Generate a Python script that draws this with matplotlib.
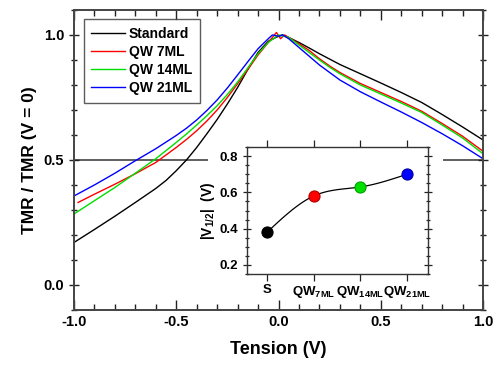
import numpy as np
import matplotlib
matplotlib.use("Agg")
import matplotlib.pyplot as plt
from matplotlib.patches import Rectangle
from matplotlib.ticker import MultipleLocator

plt.rcParams["font.family"] = ["Liberation Sans", "DejaVu Sans"]
plt.rcParams["font.weight"] = "bold"
plt.rcParams["axes.unicode_minus"] = False
plt.rcParams["mathtext.fontset"] = "custom"
plt.rcParams["mathtext.rm"] = "Liberation Sans:bold"
plt.rcParams["mathtext.bf"] = "Liberation Sans:bold"
plt.rcParams["mathtext.default"] = "bf"

# ---- main curves: normalised TMR vs bias ----
v_std = [-1.0, -0.9, -0.8, -0.7, -0.6, -0.55, -0.5, -0.45, -0.4, -0.35, -0.3, -0.25,
         -0.2, -0.15, -0.1, -0.05, 0.0, 0.02, 0.05, 0.1, 0.15, 0.2, 0.3, 0.4, 0.5,
         0.6, 0.7, 0.8, 0.9, 1.0]
tmr_std = [0.17, 0.222, 0.275, 0.33, 0.386, 0.418, 0.457, 0.5, 0.55, 0.605, 0.662, 0.724,
           0.79, 0.862, 0.93, 0.975, 0.995, 1.0, 0.99, 0.97, 0.948, 0.925, 0.882, 0.845,
           0.808, 0.77, 0.73, 0.682, 0.632, 0.58]

v_7 = [-0.98, -0.9, -0.8, -0.7, -0.6, -0.5, -0.45, -0.4, -0.35, -0.3, -0.25, -0.2,
       -0.15, -0.1, -0.05, -0.01, 0.01, 0.03, 0.05, 0.1, 0.15, 0.2, 0.25, 0.3, 0.4,
       0.5, 0.6, 0.7, 0.8, 0.9, 1.0]
tmr_7 = [0.33, 0.363, 0.403, 0.445, 0.49, 0.55, 0.582, 0.617, 0.656, 0.70, 0.75, 0.805,
         0.862, 0.92, 0.97, 1.01, 0.985, 1.0, 0.99, 0.965, 0.938, 0.905, 0.876, 0.85,
         0.806, 0.77, 0.734, 0.695, 0.646, 0.595, 0.535]

v_14 = [-1.0, -0.9, -0.8, -0.7, -0.6, -0.5, -0.45, -0.4, -0.35, -0.3, -0.25, -0.2,
        -0.15, -0.1, -0.05, 0.0, 0.05, 0.1, 0.15, 0.2, 0.25, 0.3, 0.4, 0.5, 0.6, 0.7,
        0.8, 0.9, 1.0]
tmr_14 = [0.284, 0.337, 0.39, 0.447, 0.505, 0.57, 0.604, 0.64, 0.677, 0.717, 0.762,
          0.812, 0.868, 0.925, 0.97, 1.0, 0.99, 0.96, 0.93, 0.9, 0.871, 0.845, 0.8,
          0.764, 0.728, 0.69, 0.64, 0.588, 0.525]

v_21 = [-1.0, -0.9, -0.8, -0.7, -0.6, -0.5, -0.45, -0.4, -0.35, -0.3, -0.25, -0.2,
        -0.15, -0.1, -0.05, -0.03, 0.0, 0.02, 0.05, 0.1, 0.15, 0.2, 0.25, 0.3, 0.4,
        0.5, 0.6, 0.7, 0.8, 0.9, 1.0]
tmr_21 = [0.356, 0.40, 0.447, 0.497, 0.545, 0.598, 0.627, 0.66, 0.698, 0.74, 0.788,
          0.84, 0.893, 0.945, 0.985, 1.0, 0.995, 1.0, 0.985, 0.95, 0.915, 0.88, 0.85,
          0.82, 0.773, 0.732, 0.692, 0.65, 0.605, 0.557, 0.505]

# ---- inset: |V1/2| per sample ----
samples = ["S", "QW$_{7ML}$", "QW$_{14ML}$", "QW$_{21ML}$"]
v_half = [0.38, 0.58, 0.63, 0.70]
sample_colors = ["black", "#ff0000", "#00e000", "#0000ff"]
sample_edges = ["#000000", "#b00000", "#00a000", "#0000a0"]

SERIES = [
    ("Standard", v_std, tmr_std, "black"),
    ("QW 7ML", v_7, tmr_7, "#ff0000"),
    ("QW 14ML", v_14, tmr_14, "#00dd00"),
    ("QW 21ML", v_21, tmr_21, "#0000ff"),
]

fig = plt.figure(figsize=(5.0, 3.69), dpi=100)
ax = fig.add_axes([0.148, 0.16, 0.818, 0.813])

ax.axhline(0.5, color="#333333", lw=1.1, zorder=1)
for name, x, y, c in SERIES:
    ax.plot(x, y, color=c, lw=1.0, label=name, zorder=2)

ax.set_xlim(-1.0, 1.0)
ax.set_ylim(-0.1, 1.1)
ax.set_xticks([-1.0, -0.5, 0.0, 0.5, 1.0])
ax.set_yticks([0.0, 0.5, 1.0])
ax.xaxis.set_minor_locator(MultipleLocator(0.1))
ax.yaxis.set_minor_locator(MultipleLocator(0.1))
ax.tick_params(axis="both", which="both", top=True, right=True, labelsize=10.5,
               width=1.0, color="#222222")
ax.tick_params(axis="x", which="both", direction="in")
ax.tick_params(axis="y", which="both", direction="inout")
ax.tick_params(axis="both", which="major", length=7)
ax.tick_params(axis="both", which="minor", length=4)
for lab in ax.get_xticklabels() + ax.get_yticklabels():
    lab.set_fontweight("bold")
for sp in ax.spines.values():
    sp.set_color("#444444")
    sp.set_linewidth(1.4)

ax.set_xlabel("Tension (V)", fontsize=13, fontweight="bold", labelpad=9)
ax.set_ylabel("TMR / TMR (V = 0)", fontsize=12.5, fontweight="bold", labelpad=5)

leg = ax.legend(loc="upper left", bbox_to_anchor=(0.024, 0.97), borderaxespad=0,
                fontsize=10, frameon=True, fancybox=False, handlelength=2.4,
                handletextpad=0.3, borderpad=0.55, labelspacing=0.3)
leg.get_frame().set_edgecolor("#333333")
leg.get_frame().set_linewidth(1.0)
for t in leg.get_texts():
    t.set_fontweight("bold")

# white backing behind the inset (hides the 0.5 guide line)
fig.add_artist(Rectangle((208 / 500, 1 - 300 / 369), (443 - 208) / 500, (300 - 150) / 369,
                         transform=fig.transFigure, facecolor="white", edgecolor="none",
                         zorder=1))

ins = fig.add_axes([0.494, 0.2575, 0.362, 0.344], zorder=2)
pos = np.arange(len(samples))
# smooth guide line through the four points (natural cubic spline)
h = np.diff(pos).astype(float)
yv = np.array(v_half)
n = len(pos)
A = np.zeros((n, n))
r = np.zeros(n)
A[0, 0] = A[-1, -1] = 1
for i in range(1, n - 1):
    A[i, i - 1] = h[i - 1]
    A[i, i] = 2 * (h[i - 1] + h[i])
    A[i, i + 1] = h[i]
    r[i] = 6 * ((yv[i + 1] - yv[i]) / h[i] - (yv[i] - yv[i - 1]) / h[i - 1])
M = np.linalg.solve(A, r)
xs, ys = [], []
for i in range(n - 1):
    t = np.linspace(pos[i], pos[i + 1], 30)
    a = (pos[i + 1] - t) / h[i]
    b = (t - pos[i]) / h[i]
    s = a * yv[i] + b * yv[i + 1] + ((a**3 - a) * M[i] + (b**3 - b) * M[i + 1]) * h[i]**2 / 6
    xs.extend(t)
    ys.extend(s)
ins.plot(xs, ys, color="black", lw=0.9, zorder=2)
for p, v, c, ec in zip(pos, v_half, sample_colors, sample_edges):
    ins.plot(p, v, "o", ms=8, color=c, mec=ec, mew=0.8, zorder=3)

ins.set_xlim(-0.43, 3.45)
ins.set_ylim(0.15, 0.85)
ins.set_xticks(pos)
ins.set_xticklabels(samples)
ins.set_yticks([0.2, 0.4, 0.6, 0.8])
ins.yaxis.set_minor_locator(MultipleLocator(0.05))
ins.tick_params(axis="both", which="both", top=True, right=True, labelsize=9.5,
                width=0.9, color="#222222")
ins.tick_params(axis="x", which="both", direction="out", length=5, pad=2)
ins.tick_params(axis="y", which="major", direction="inout", length=6)
ins.tick_params(axis="y", which="minor", direction="inout", length=3)
for lab in ins.get_xticklabels() + ins.get_yticklabels():
    lab.set_fontweight("bold")
for sp in ins.spines.values():
    sp.set_color("#333333")
    sp.set_linewidth(1.0)
ins.set_ylabel("|V$_{1/2}$|  (V)", fontsize=10, fontweight="bold", labelpad=2)

fig.savefig("out.png", dpi=100)
